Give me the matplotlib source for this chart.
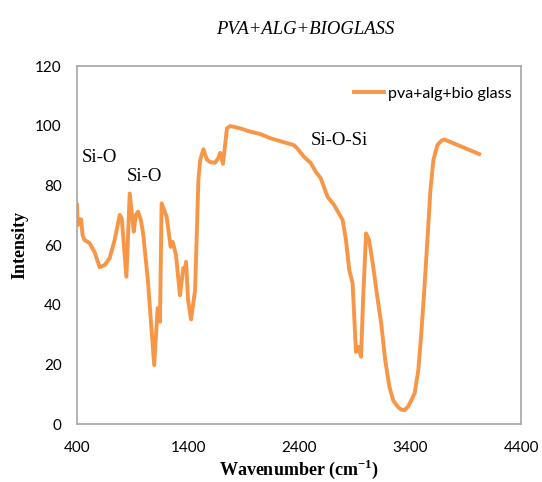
import matplotlib
matplotlib.use("Agg")
import matplotlib.pyplot as plt

plt.rcParams["mathtext.fontset"] = "custom"
plt.rcParams["mathtext.rm"] = "Liberation Serif"
plt.rcParams["mathtext.bf"] = "Liberation Serif:bold"

# FTIR spectrum
wavenumber = [400, 407, 423, 438, 450, 468, 513, 558, 604, 649, 694, 739, 785, 803,
              845, 875, 911, 929, 950, 975, 995, 1038, 1095, 1126, 1138, 1147, 1162,
              1207, 1243, 1261, 1291, 1327, 1357, 1373, 1382, 1400, 1427, 1463, 1493,
              1509, 1538, 1569, 1599, 1644, 1672, 1690, 1714, 1750, 1780, 1870, 1961,
              2051, 2142, 2259, 2353, 2383, 2443, 2504, 2549, 2594, 2655, 2715, 2791,
              2821, 2851, 2881, 2911, 2932, 2957, 2975, 3002, 3029, 3062, 3101, 3138,
              3174, 3212, 3246, 3288, 3318, 3348, 3382, 3409, 3439, 3472, 3499, 3526,
              3554, 3581, 3608, 3644, 3680, 3706, 3860, 4020]
intensity = [73.5, 66.7, 68.6, 68.6, 63.4, 61.7, 60.7, 57.7, 52.6, 53.3, 55.6, 61.7,
             70.1, 69.0, 49.4, 77.3, 64.5, 70.0, 71.2, 68.4, 64.0, 48.3, 19.8, 38.9,
             37.5, 34.3, 74.0, 69.5, 59.4, 61.1, 56.7, 43.2, 52.3, 52.3, 54.4, 41.6,
             35.1, 44.9, 81.8, 88.5, 92.1, 88.7, 87.8, 87.6, 89.2, 90.9, 87.2, 99.1,
             99.9, 99.1, 98.0, 97.2, 95.8, 94.5, 93.5, 92.4, 89.6, 87.5, 84.6, 82.4,
             76.2, 73.4, 68.4, 61.7, 51.6, 47.2, 24.2, 25.9, 22.6, 41.6, 63.9, 61.7,
             53.9, 43.2, 33.8, 21.5, 12.5, 8.0, 5.8, 4.9, 4.7, 6.0, 8.0, 10.3, 18.1,
             30.4, 44.9, 61.7, 78.4, 88.5, 93.5, 95.0, 95.4, 93.0, 90.5]

x_ticks = [400, 1400, 2400, 3400, 4400]
y_ticks = [0, 20, 40, 60, 80, 100, 120]

# peak labels: (text, wavenumber, intensity)
peak_labels = [("Si-O", 440, 89.5), ("Si-O", 850, 83), ("Si-O-Si", 2500, 95)]

fig = plt.figure(figsize=(5.42, 4.82), dpi=100)
ax = fig.add_axes([0.142, 0.120, 0.820, 0.743])

ax.plot(wavenumber, intensity, color="#F79646", lw=2.8,
        solid_joinstyle="round", label="pva+alg+bio glass")

ax.set_xlim(400, 4400)
ax.set_ylim(0, 120)
ax.set_xticks(x_ticks)
ax.set_yticks(y_ticks)
ax.tick_params(length=0, labelsize=11)
ax.tick_params(axis="y", pad=11)
ax.tick_params(axis="x", pad=12)
for lab in ax.get_xticklabels() + ax.get_yticklabels():
    lab.set_fontfamily("Lato")

for sp in ax.spines.values():
    sp.set_color("#A6A6A6")
    sp.set_linewidth(1.2)

for txt, xv, yv in peak_labels:
    ax.text(xv, yv, txt, fontsize=13.5, family="Liberation Serif", ha="left", va="center")

ax.set_xlabel("Wavenumber (cm$^{\\mathbf{-1}}$)", fontsize=13, fontweight="bold",
              family="Liberation Serif", labelpad=2)
ax.set_ylabel("Intensity", fontsize=13, fontweight="bold",
              family="Liberation Serif", labelpad=5)
fig.text(0.563, 0.938, "PVA+ALG+BIOGLASS", fontsize=13.4, style="italic",
         family="Liberation Serif", ha="center", va="center")

ax.legend(loc="upper right", frameon=False, prop={"family": "Lato", "size": 11.5},
          handlelength=1.9, handletextpad=0.25, borderaxespad=0.2,
          bbox_to_anchor=(1.0, 0.97))

fig.savefig("out.png", dpi=100)
